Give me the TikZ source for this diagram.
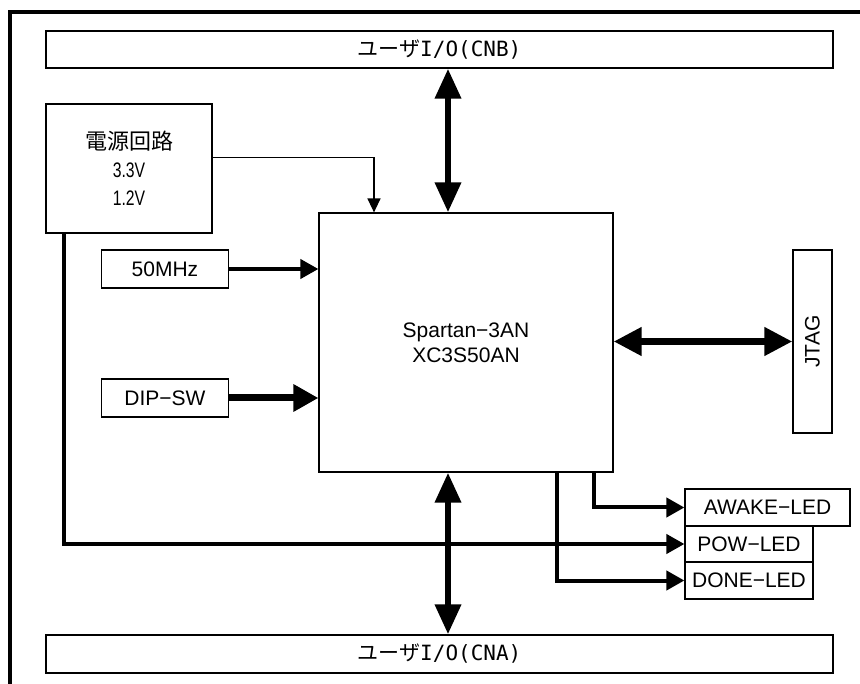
\documentclass[tikz,border=0pt]{standalone}
\usepackage{fontspec}
\setmainfont{Liberation Sans}
\newfontfamily\jp{Noto Sans CJK JP}
\newfontfamily\monof{DejaVu Sans Mono}
\usetikzlibrary{arrows.meta,calc}
\begin{document}
\begin{tikzpicture}[x=1pt,y=-1pt,
  box/.style={draw=black, line width=1.2pt, rectangle, inner sep=0pt,
    font=\fontsize{21}{26}\selectfont, align=center},
  thinarrow/.style={draw, line width=1.3pt, line join=miter, -{Triangle[width=13pt,length=14pt]}},
  medarrow/.style={draw, line width=4pt, line join=miter, -{Triangle[width=19pt,length=18pt]}},
  diparrow/.style={draw, line width=7pt, -{Triangle[width=26pt,length=25pt]}},
  bigarrow/.style={draw, line width=6.5pt, {Triangle[width=25pt,length=30pt]}-{Triangle[width=25pt,length=30pt]}},
  jtagarrow/.style={draw, line width=7.5pt, {Triangle[width=27pt,length=28pt]}-{Triangle[width=27pt,length=28pt]}},
  frameline/.style={draw, line width=4pt, line join=miter}
]
\useasboundingbox (0,0) rectangle (860,684);

% outer frame
\draw[frameline] (9.7,684) -- (9.7,12.5) -- (860,12.5);

% nodes
\node[box, minimum width=787pt, minimum height=37pt] (cnb) at (439.5,49.5) {{\jp ユーザ}{\monof I/O(CNB)}};
\node[box, minimum width=787pt, minimum height=38pt] (cna) at (439.5,654) {{\jp ユーザ}{\monof I/O(CNA)}};
\node[box, minimum width=166pt, minimum height=129pt, font=\fontsize{21}{28}\selectfont] (pwr) at (129,168.5)
  {{\jp\fontsize{22}{28}\selectfont 電源回路}\\ \scalebox{0.75}[1]{3.3V}\\ \scalebox{0.75}[1]{1.2V}};
\node[box, minimum width=294pt, minimum height=259pt, font=\fontsize{21}{25}\selectfont] (fpga) at (466,342.5) {Spartan−3AN\\XC3S50AN};
\node[box, minimum width=127pt, minimum height=38pt] (clk) at (165,269) {50MHz};
\node[box, minimum width=127pt, minimum height=38pt] (dip) at (165,398) {DIP−SW};
\node[box, minimum width=39pt, minimum height=183pt] (jtag) at (812.5,341.5) {\rotatebox{90}{JTAG}};
\node[box, minimum width=165pt, minimum height=37pt] (awake) at (767.5,507.5) {AWAKE−LED};
\node[box, minimum width=128pt, minimum height=36pt] (pow) at (749,544) {POW−LED};
\node[box, minimum width=128pt, minimum height=37pt] (done) at (749,580.5) {DONE−LED};

\coordinate (fN) at ([xshift=-18pt]fpga.north);
\coordinate (fS) at ([xshift=-18pt]fpga.south);

% connectors
\draw[bigarrow] (cnb.south -| fN) -- (fN);
\draw[bigarrow] (fS) -- (cna.north -| fS);
\draw[thinarrow] ([yshift=-54pt]pwr.north east) -| ([xshift=-92pt]fpga.north);
\draw[medarrow] (clk.east) -- (clk.east -| fpga.west);
\draw[diparrow] (dip.east) -- (dip.east -| fpga.west);
\draw[jtagarrow] (fpga.east |- jtag.west) -- (jtag.west);
\draw[medarrow] ([xshift=128pt]fpga.south) |- (awake.west);
\draw[medarrow] ([xshift=91pt]fpga.south) |- (done.west);
\draw[medarrow] ([xshift=-65pt]pwr.south) |- (pow.west);
\end{tikzpicture}
\end{document}
